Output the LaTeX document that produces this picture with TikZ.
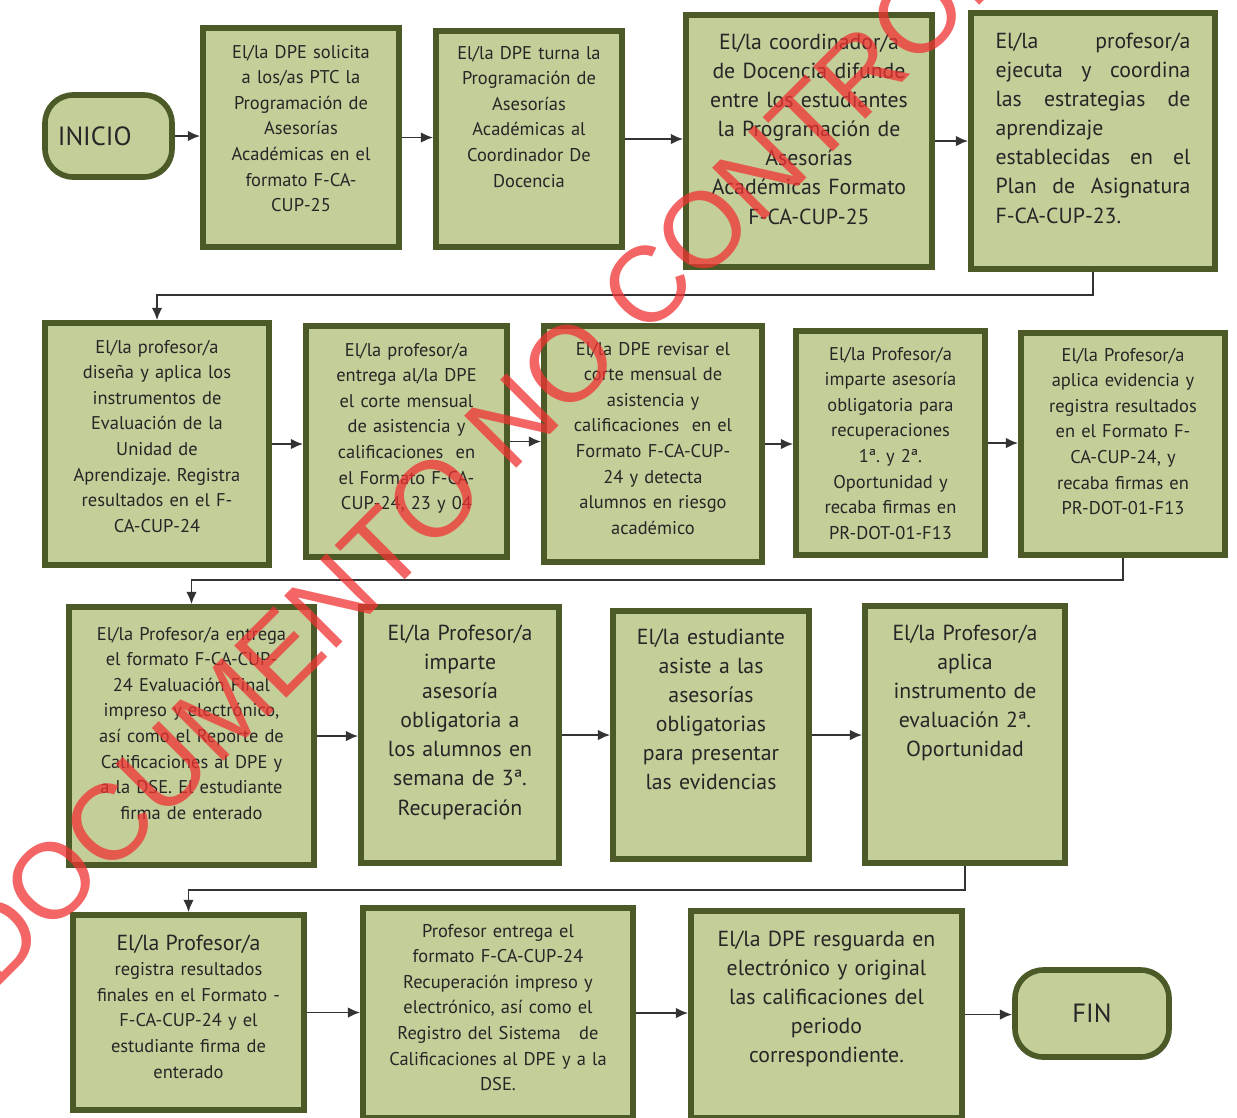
\documentclass[tikz,border=0pt]{standalone}
\usepackage{fontspec}
\setmainfont{PT Sans}
\newfontfamily\marcafont{Liberation Sans}
\usepackage{tikz}
\usetikzlibrary{arrows.meta,shadows}
\definecolor{verdeFondo}{RGB}{196,206,153}
\definecolor{verdeBorde}{RGB}{76,90,40}
\definecolor{rojoMarca}{RGB}{240,50,50}
\newcommand{\chica}{\fontsize{10.5}{14.6}\selectfont}
\newcommand{\grande}{\fontsize{12.4}{16.6}\selectfont}
\frenchspacing

\begin{document}
\begin{tikzpicture}[x=0.02cm,y=-0.02cm,
  paso/.style={draw=verdeBorde,fill=verdeFondo,line width=3.2pt,inner xsep=3pt,inner ysep=0pt,
    align=center,font=\chica,text=black!85,
    drop shadow={shadow xshift=1.2pt,shadow yshift=-1.2pt,fill=black,opacity=0.45}},
  extremo/.style={paso,rounded corners=16pt,font=\fontsize{15}{17}\selectfont},
  flecha/.style={draw=black!80,line width=1.1pt,-{Latex[length=7pt,width=6pt]}}]

  \useasboundingbox (0,0) rectangle (1237,1117);

  % fila 1
  \node[extremo,minimum width=2.54cm,minimum height=1.64cm] (pIni) at (108.5,136) {INICIO\hspace*{0.55cm}};
  \node[paso,text width=3.92cm-6pt,text height=0.60cm,text depth=3.78cm] (p1) at (301,137.5)
    {El/la DPE solicita\\ a los/as PTC la\\ Programación de\\ Asesorías\\ Académicas en el\\ formato F-CA-\\ CUP-25};
  \node[paso,text width=3.72cm-6pt,text height=0.56cm,text depth=3.76cm] (p2) at (529,139)
    {El/la DPE turna la\\ Programación de\\ Asesorías\\ Académicas al\\ Coordinador De\\ Docencia};
  \node[paso,font=\grande,text width=4.92cm-6pt,text height=0.68cm,text depth=4.36cm] (p3) at (809,141)
    {El/la coordinador/a\\ de Docencia difunde\\ entre los estudiantes\\ la Programación de\\ Asesorías\\ Académicas Formato\\ F-CA-CUP-25};
  \node[paso,font=\grande,align=left,inner xsep=0.49cm,text width=3.9cm,text height=0.70cm,text depth=4.42cm] (p4) at (1093,141)
    {El/la \hfill profesor/a\\ ejecuta \hfill y \hfill coordina\\ las \hfill estrategias \hfill de\\ aprendizaje\\
     establecidas \hfill en \hfill el\\ Plan \hfill de \hfill Asignatura\\ F-CA-CUP-23.};

  % fila 2
  \node[paso,text width=4.48cm-6pt,text height=0.60cm,text depth=4.24cm] (p5) at (157,444)
    {El/la profesor/a\\ diseña y aplica los\\ instrumentos de\\ Evaluación de la\\ Unidad de\\ Aprendizaje. Registra\\ resultados en el F-\\ CA-CUP-24};
  \node[paso,text width=4.02cm-6pt,text height=0.60cm,text depth=4.02cm] (p6) at (406.5,441.5)
    {El/la profesor/a\\ entrega al/la DPE\\ el corte mensual\\ de asistencia y\\ calificaciones\ \ en\\ el Formato F-CA-\\ CUP-24, 23 y 04};
  \node[paso,text width=4.36cm-6pt,text height=0.58cm,text depth=4.14cm] (p7) at (653,444)
    {El/la DPE revisar el\\ corte mensual de\\ asistencia y\\ calificaciones\ \ en el\\ Formato F-CA-CUP-\\ 24 y detecta\\ alumnos en riesgo\\ académico};
  \node[paso,text width=3.78cm-6pt,text height=0.58cm,text depth=3.90cm] (p8) at (890.5,443)
    {El/la Profesor/a\\ imparte asesoría\\ obligatoria para\\ recuperaciones\\ 1ª. y 2ª.\\ Oportunidad y\\ recaba firmas en\\ PR-DOT-01-F13};
  \node[paso,text width=4.08cm-6pt,text height=0.56cm,text depth=3.88cm] (p9) at (1123,444)
    {El/la Profesor/a\\ aplica evidencia y\\ registra resultados\\ en el Formato F-\\ CA-CUP-24, y\\ recaba firmas en\\ PR-DOT-01-F13};

  % fila 3
  \node[paso,text width=4.90cm-6pt,text height=0.66cm,text depth=4.50cm] (p10) at (191.5,736)
    {El/la Profesor/a entrega\\ el formato F-CA-CUP-\\ 24 Evaluación Final\\ impreso y electrónico,\\ así como el Reporte de\\ Calificaciones al DPE y\\ a la DSE. El estudiante\\ firma de enterado};
  \node[paso,font=\grande,text width=3.96cm-6pt,text height=0.66cm,text depth=4.46cm] (p11) at (460,735)
    {El/la Profesor/a\\ imparte\\ asesoría\\ obligatoria a\\ los alumnos en\\ semana de 3ª.\\ Recuperación};
  \node[paso,font=\grande,text width=3.92cm-6pt,text height=0.66cm,text depth=4.30cm] (p12) at (711,735)
    {El/la estudiante\\ asiste a las\\ asesorías\\ obligatorias\\ para presentar\\ las evidencias};
  \node[paso,font=\grande,text width=4.00cm-6pt,text height=0.68cm,text depth=4.46cm] (p13) at (965,734.5)
    {El/la Profesor/a\\ aplica\\ instrumento de\\ evaluación 2ª.\\ Oportunidad};

  % fila 4
  \node[paso,text width=4.62cm-6pt,text height=0.70cm,text depth=3.20cm] (p14) at (188.5,1012.5)
    {{\grande El/la Profesor/a}\\ registra resultados\\ finales en el Formato -\\ F-CA-CUP-24 y el\\ estudiante firma de\\ enterado};
  \node[paso,text width=5.40cm-6pt,text height=0.58cm,text depth=3.62cm] (p15) at (498,1013)
    {Profesor entrega el\\ formato F-CA-CUP-24\\ Recuperación impreso y\\ electrónico, así como el\\ Registro del Sistema\ \ \ de\\ Calificaciones al DPE y a la\\ DSE.};
  \node[paso,font=\grande,text width=5.42cm-6pt,text height=0.70cm,text depth=3.44cm] (p16) at (826.5,1014.5)
    {El/la DPE resguarda en\\ electrónico y original\\ las calificaciones del\\ periodo\\ correspondiente.};
  \node[extremo,minimum width=3.08cm,minimum height=1.74cm] (pFin) at (1092,1013.5) {FIN};

  % flechas de cada fila
  \draw[flecha] (pIni.east) -- (pIni.east -| p1.west);
  \draw[flecha] (p1.east) -- (p1.east -| p2.west);
  \draw[flecha] (p2.east) -- (p2.east -| p3.west);
  \draw[flecha] (p3.east) -- (p3.east -| p4.west);
  \draw[flecha] (p5.east) -- (p5.east -| p6.west);
  \draw[flecha] (p6.east) -- (p6.east -| p7.west);
  \draw[flecha] (p7.east) -- (p7.east -| p8.west);
  \draw[flecha] (p8.east) -- (p8.east -| p9.west);
  \draw[flecha] (p10.east) -- (p10.east -| p11.west);
  \draw[flecha] (p11.east) -- (p11.east -| p12.west);
  \draw[flecha] (p12.east) -- (p12.east -| p13.west);
  \draw[flecha] (p14.east) -- (p14.east -| p15.west);
  \draw[flecha] (p15.east) -- (p15.east -| p16.west);
  \draw[flecha] (p16.east) -- (p16.east -| pFin.west);

  % cambios de fila
  \coordinate (v1) at (0,295);
  \coordinate (v2) at (0,580);
  \coordinate (v3) at (0,890);
  \draw[flecha] (p4.south) -- (p4.south |- v1) -| (p5.north);
  \draw[flecha] (p9.south) -- (p9.south |- v2) -| (p10.north);
  \draw[flecha] (p13.south) -- (p13.south |- v3) -| (p14.north);

  % sello
  \node[rotate=45,text=rojoMarca,text opacity=0.75,inner sep=0pt,font=\marcafont\fontsize{61}{64}\selectfont] (marca) at (561,372)
    {DOCUMENTO NO CONTROLADO};
\end{tikzpicture}
\end{document}
